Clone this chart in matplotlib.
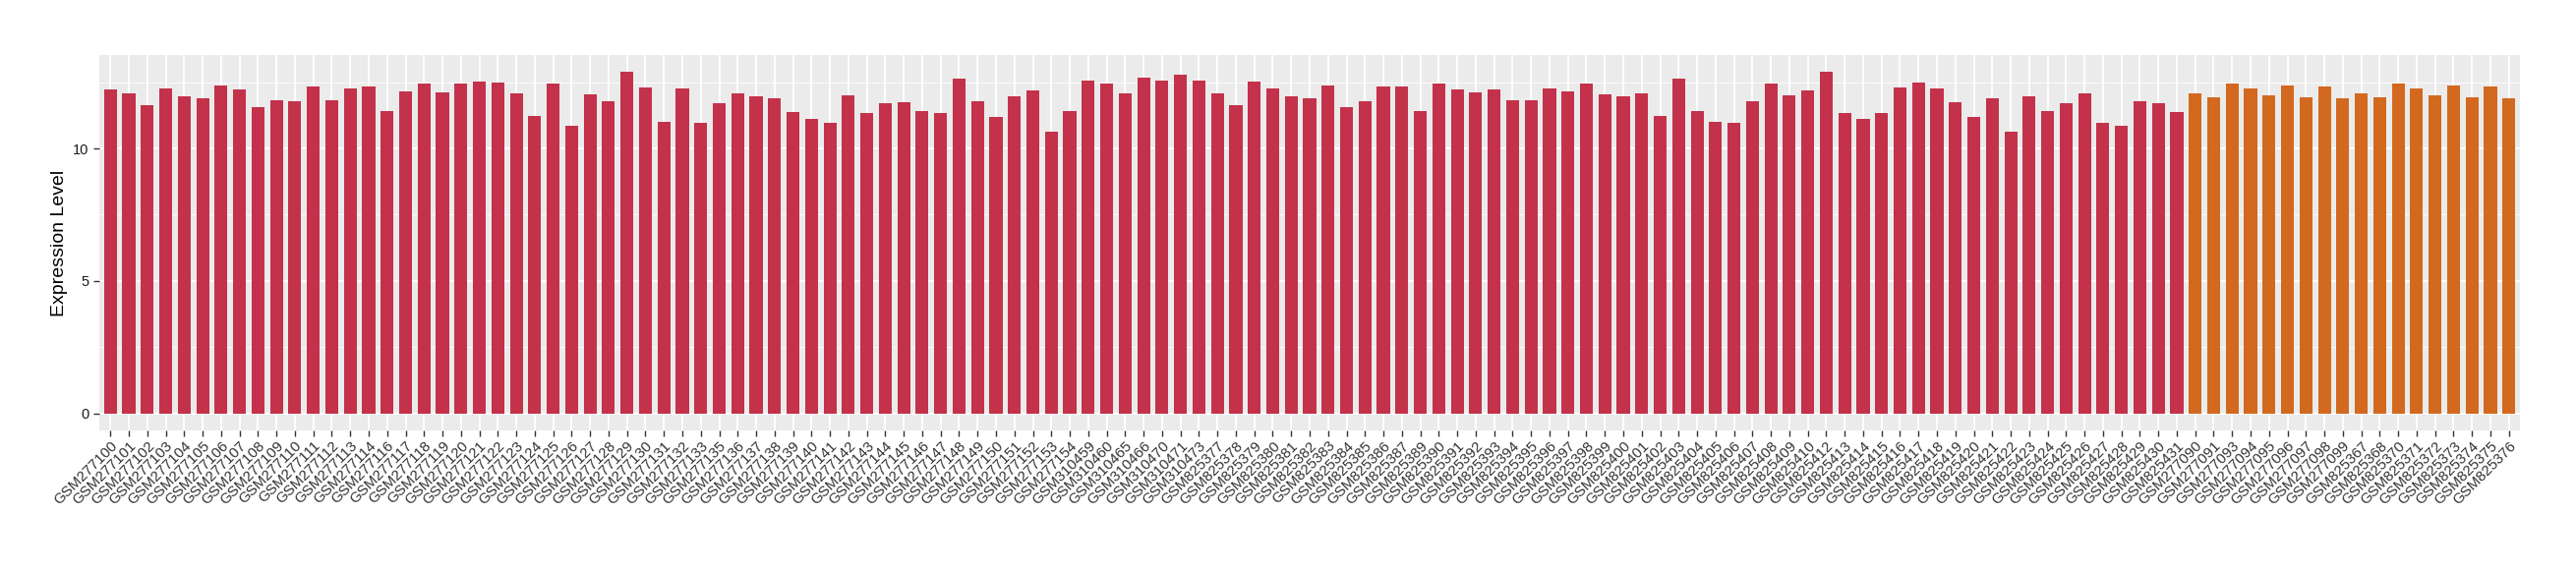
import matplotlib
matplotlib.use("Agg")
import matplotlib.pyplot as plt
import numpy as np

# ---- data ----
group_a_samples = (
    [f"GSM2771{n:02d}" for n in list(range(0, 15)) + list(range(16, 34)) + list(range(35, 55))]
    + ["GSM310459", "GSM310460", "GSM310465", "GSM310466", "GSM310470", "GSM310471", "GSM310473"]
    + [f"GSM825{n}" for n in list(range(377, 388)) + list(range(389, 411)) + list(range(412, 432))]
)
group_a_values = [
    # GSM277100-114
    12.24, 12.09, 11.63, 12.28, 11.96, 11.88, 12.39, 12.24, 11.56, 11.81, 11.77, 12.35, 11.81, 12.28, 12.35,
    # GSM277116-133
    11.41, 12.17, 12.46, 12.13, 12.43, 12.52, 12.49, 12.07, 11.24, 12.43, 10.84, 12.03, 11.77, 12.88, 12.31, 11.01, 12.28, 10.98,
    # GSM277135-154
    11.71, 12.07, 11.96, 11.88, 11.37, 11.13, 10.95, 11.99, 11.35, 11.71, 11.73, 11.41, 11.35, 12.64, 11.77, 11.20, 11.96, 12.20, 10.62, 11.41,
    # GSM310459...
    12.56, 12.43, 12.07, 12.67, 12.56, 12.78, 12.56,
    # GSM825377-387
    12.09, 11.63, 12.52, 12.28, 11.96, 11.88, 12.39, 11.56, 11.77, 12.35, 12.35,
    # GSM825389-410
    11.41, 12.46, 12.24, 12.13, 12.24, 11.81, 11.81, 12.28, 12.17, 12.43, 12.03, 11.96, 12.07, 11.24, 12.64, 11.41, 11.01, 10.98, 11.77, 12.43, 11.99, 12.20,
    # GSM825412-431
    12.88, 11.35, 11.13, 11.35, 12.31, 12.49, 12.28, 11.73, 11.20, 11.88, 10.62, 11.96, 11.41, 11.71, 12.07, 10.95, 10.84, 11.77, 11.71, 11.37,
]
group_b_samples = (
    ["GSM277090", "GSM277091", "GSM277093", "GSM277094", "GSM277095", "GSM277096", "GSM277097", "GSM277098", "GSM277099"]
    + ["GSM825367", "GSM825368", "GSM825370", "GSM825371", "GSM825372", "GSM825373", "GSM825374", "GSM825375", "GSM825376"]
)
group_b_values = [
    12.07, 11.92, 12.46, 12.28, 11.99, 12.39, 11.92, 12.35, 11.88,
    12.07, 11.92, 12.46, 12.28, 11.99, 12.39, 11.92, 12.35, 11.88,
]

color_a = "#C3324A"
color_b = "#D2691F"

samples = group_a_samples + group_b_samples
values = group_a_values + group_b_values
colors = [color_a] * len(group_a_samples) + [color_b] * len(group_b_samples)

plt.rcParams["font.family"] = ["Liberation Sans", "DejaVu Sans"]

fig = plt.figure(figsize=(26.2, 5.8), dpi=100)
ax = fig.add_axes([101 / 2620, 1 - 438 / 580, (2563 - 101) / 2620, (438 - 56) / 580])

x = np.arange(len(samples))
ax.set_facecolor("#EBEBEB")
for s in ax.spines.values():
    s.set_visible(False)

ymax = max(values)
ax.set_ylim(-0.05 * ymax, ymax * 1.05)
ax.set_xlim(-0.6, len(samples) - 1 + 0.6)

ax.set_yticks([0, 5, 10])
ax.set_yticks([2.5, 7.5, 12.5], minor=True)
ax.set_xticks(x)
ax.set_xticklabels(samples, rotation=45, ha="right", va="top", rotation_mode="anchor",
                   fontsize=10.8, color="#1a1a1a")
ax.tick_params(axis="y", labelsize=10.5, colors="#333333", labelcolor="#1a1a1a", length=4, width=1)
ax.tick_params(axis="x", colors="#333333", length=4, width=1, pad=2)
ax.tick_params(axis="y", which="minor", length=0)

ax.grid(True, which="major", color="white", linewidth=1.3)
ax.grid(True, which="minor", axis="y", color="white", linewidth=0.6)
ax.set_axisbelow(True)

ax.bar(x, values, width=0.7, color=colors, zorder=2)

ax.set_ylabel("Expression Level", fontsize=14, color="black", labelpad=4)

fig.savefig("out.png", dpi=100)
